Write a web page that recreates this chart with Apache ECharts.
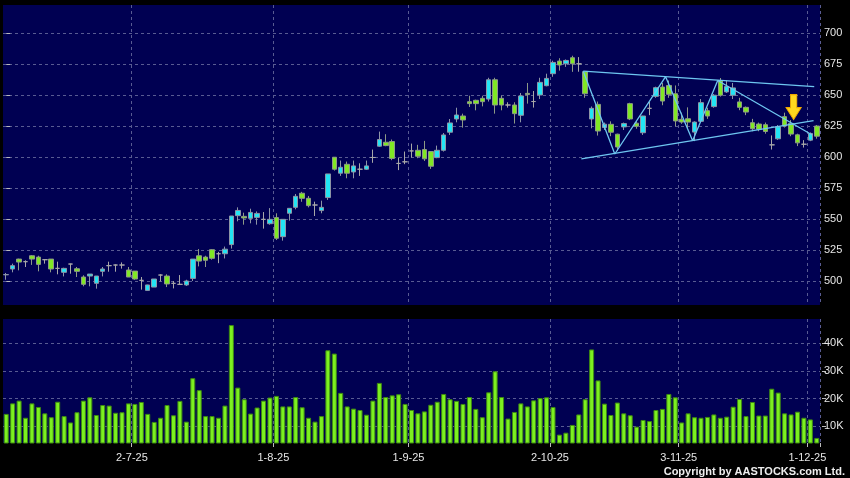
<!DOCTYPE html>
<html>
<head>
<meta charset="utf-8">
<script src="https://cdn.jsdelivr.net/npm/echarts@6/dist/echarts.min.js"></script>
<style>
html,body{margin:0;padding:0;background:#000;}
#chart{width:850px;height:478px;}
</style>
</head>
<body>
<div id="chart"></div>
<script>
const dates = [
"3-6-25","4-6-25","5-6-25","6-6-25","9-6-25","10-6-25","11-6-25","12-6-25","13-6-25","16-6-25",
"17-6-25","18-6-25","19-6-25","20-6-25","23-6-25","24-6-25","25-6-25","26-6-25","27-6-25","30-6-25",
"2-7-25","3-7-25","4-7-25","7-7-25","8-7-25","9-7-25","10-7-25","11-7-25","14-7-25","15-7-25",
"16-7-25","17-7-25","18-7-25","21-7-25","22-7-25","23-7-25","24-7-25","25-7-25","28-7-25","29-7-25",
"30-7-25","31-7-25","1-8-25","4-8-25","5-8-25","6-8-25","7-8-25","8-8-25","11-8-25","12-8-25",
"13-8-25","14-8-25","15-8-25","18-8-25","19-8-25","20-8-25","21-8-25","22-8-25","25-8-25","26-8-25",
"27-8-25","28-8-25","29-8-25","1-9-25","2-9-25","3-9-25","4-9-25","5-9-25","8-9-25","9-9-25",
"10-9-25","11-9-25","12-9-25","15-9-25","16-9-25","17-9-25","18-9-25","19-9-25","22-9-25","23-9-25",
"24-9-25","25-9-25","26-9-25","29-9-25","30-9-25","2-10-25","3-10-25","6-10-25","8-10-25","9-10-25",
"10-10-25","13-10-25","14-10-25","15-10-25","16-10-25","17-10-25","20-10-25","21-10-25","22-10-25","23-10-25",
"24-10-25","27-10-25","28-10-25","30-10-25","31-10-25","3-11-25","4-11-25","5-11-25","6-11-25","7-11-25",
"10-11-25","11-11-25","12-11-25","13-11-25","14-11-25","17-11-25","18-11-25","19-11-25","20-11-25","21-11-25",
"24-11-25","25-11-25","26-11-25","27-11-25","28-11-25","1-12-25","2-12-25"
];
const labelDates = ["2-7-25","1-8-25","1-9-25","2-10-25","3-11-25","1-12-25"];

const opens = [
505.0,509.7,517.7,515.6,520.4,519.3,517.2,517.7,510.2,507.0,
513.7,509.9,503.2,504.0,498.1,507.8,512.4,512.9,512.9,508.9,
508.0,500.5,492.4,495.1,504.8,504.0,498.1,497.3,496.8,502.1,
520.4,519.3,525.3,522.0,522.0,529.4,552.8,552.2,550.6,551.4,
549.8,546.3,551.2,535.8,554.7,559.5,570.9,566.8,561.4,556.9,
567.4,600.0,587.1,594.3,588.1,590.3,590.3,599.8,608.9,612.1,
612.7,595.0,596.3,605.1,605.6,606.2,604.6,599.7,605.6,620.2,
630.9,633.3,644.9,646.0,647.6,647.0,662.6,647.6,642.2,642.2,
633.9,651.6,645.0,650.3,657.8,667.5,677.7,675.5,680.4,675.5,
669.1,630.9,642.7,624.0,626.6,618.6,624.5,643.3,627.5,619.8,
639.5,649.2,656.7,658.0,651.3,630.6,631.1,620.3,629.0,637.6,
640.9,662.0,652.8,650.1,644.7,640.3,627.9,626.8,626.3,610.0,
614.9,632.8,627.3,618.1,610.5,613.8,625.2
];
const closes = [
505.2,512.4,515.3,515.6,517.7,513.4,517.2,509.7,510.2,510.2,
513.7,507.8,497.3,505.6,504.0,509.7,512.4,512.9,512.9,503.2,
501.6,500.5,496.8,501.6,504.8,497.6,498.1,497.3,500.0,517.7,
516.1,516.7,518.3,522.0,525.7,552.5,557.0,550.9,555.4,554.6,
549.8,549.8,534.5,549.8,558.7,568.4,566.8,560.9,561.4,559.5,
586.5,590.3,591.9,587.1,593.0,590.3,593.0,599.8,614.3,609.4,
599.0,595.0,596.3,605.1,600.8,598.7,592.7,605.6,618.0,627.7,
634.1,630.1,643.3,643.3,644.9,662.6,642.2,642.2,642.2,635.2,
649.5,650.6,645.0,660.5,663.7,676.6,674.5,678.2,675.5,675.5,
651.3,639.5,621.2,626.7,620.2,608.3,627.2,630.9,625.0,633.3,
639.5,656.2,645.4,650.8,629.3,628.4,628.4,628.4,644.1,633.3,
650.1,650.1,657.1,656.0,640.3,636.5,623.0,622.5,620.8,610.0,
624.6,625.2,618.7,611.6,610.5,619.2,617.0
];
const lows = [
501.0,507.0,508.6,511.3,513.0,507.8,514.0,507.0,505.4,503.7,
505.9,503.2,495.7,495.7,493.8,503.7,507.5,507.5,510.0,503.2,
501.0,493.0,492.4,495.1,499.7,495.1,494.0,496.8,496.0,500.0,
511.8,511.3,517.2,514.4,518.2,526.2,548.2,545.5,546.6,545.5,
542.3,545.5,533.1,532.6,548.8,557.9,564.0,559.5,552.5,554.7,
565.5,589.2,584.9,583.0,583.0,584.9,589.7,595.5,608.4,608.9,
597.6,589.6,594.4,599.7,599.2,597.0,590.6,599.2,604.6,618.0,
628.2,623.9,640.6,637.9,641.1,645.0,635.2,637.9,640.1,627.2,
628.2,643.3,640.1,647.0,657.3,665.0,670.0,673.0,669.0,669.1,
648.0,623.4,617.5,622.0,617.0,605.0,622.0,630.0,623.0,618.0,
634.0,648.0,642.0,648.0,625.0,627.0,623.0,613.0,628.0,631.0,
640.0,649.0,652.0,647.0,638.0,634.0,621.0,621.0,619.0,606.2,
614.0,624.0,617.0,609.0,607.8,613.0,615.0
];
const highs = [
506.5,514.0,518.0,516.7,521.0,520.4,517.7,517.7,515.6,510.7,
514.0,511.3,504.6,505.6,504.0,511.3,515.6,513.4,515.0,511.3,
508.0,503.2,497.0,501.6,505.4,505.4,500.0,504.8,501.0,517.7,
525.8,520.4,525.8,523.5,527.8,552.5,559.5,555.2,558.4,556.2,
555.7,558.9,554.7,549.8,558.7,570.3,572.0,568.7,564.1,564.9,
586.5,600.0,597.3,596.5,597.3,595.1,597.3,606.2,620.7,618.6,
614.3,599.8,604.6,611.0,610.0,613.2,605.0,609.4,619.6,630.9,
640.0,635.2,649.7,646.5,649.7,664.2,664.2,649.7,644.4,644.4,
651.9,660.0,653.5,664.2,667.5,678.0,680.0,679.0,682.0,680.9,
669.1,641.0,645.0,628.0,629.0,619.0,628.0,644.0,629.0,633.5,
645.0,657.0,660.0,662.0,658.0,636.0,640.3,629.0,647.0,640.0,
651.0,664.0,662.0,660.0,648.0,641.0,631.0,628.0,628.0,617.6,
626.0,636.0,630.0,619.0,613.8,620.0,626.0
];
// volume in thousands of shares
const volumesK = [
14.5,18.3,19.3,13.1,18.3,17.0,14.7,13.3,18.9,13.7,
11.4,15.1,19.3,20.5,14.1,17.7,17.5,14.9,15.1,18.3,
18.1,18.8,14.5,11.6,13.1,17.7,14.0,19.2,11.7,27.4,
23.1,13.7,13.7,13.1,17.5,46.6,24.0,19.8,14.6,16.8,
19.3,20.4,21.0,17.2,17.2,20.6,16.9,13.1,11.7,13.7,
37.5,36.3,22.1,17.2,16.4,15.9,14.2,19.3,25.7,20.6,
21.2,21.6,18.1,15.9,14.7,15.4,17.8,18.9,21.7,19.8,
19.2,18.1,20.6,16.3,13.3,22.3,29.9,20.6,12.8,15.2,
18.3,17.2,19.4,20.2,20.5,17.0,7.0,7.7,10.5,14.3,
19.8,37.8,26.6,18.2,14.1,18.6,14.7,14.0,9.9,12.3,
11.9,15.9,16.3,21.7,20.5,11.4,14.7,13.3,13.1,13.4,
14.3,13.1,13.5,17.1,19.9,13.7,18.8,13.9,13.9,23.6,
22.2,14.7,14.3,15.3,13.1,12.5,5.8
];
const priceTicks = [500,525,550,575,600,625,650,675,700];
const volumeTicks = [10000,20000,30000,40000];

// hand-drawn annotation lines: [bar position, price]
const upperLine = [[89.7,669.5],[125.6,657.0]];
const lowerLine = [[89.4,598.6],[125.5,629.5]];
const zigzagLine = [[89.7,669.5],[94.6,602.6],[102.5,665.1],[106.7,613.4],[110.6,662.0],[125.3,618.0]];
const arrowMark = [[122.4,640.5]];

const candleData = dates.map((d,i)=>[opens[i],closes[i],lows[i],highs[i]]);
const volumeData = volumesK.map(v=>v*1000);

const gridColor = '#585b92';
const textColor = '#e6e6e6';
const fontFamily = '"Liberation Sans", Arial, sans-serif';
const isLabel = (idx, val) => labelDates.indexOf(dates[idx]) >= 0;

const chart = echarts.init(document.getElementById('chart'), null, {renderer:'canvas'});
chart.setOption({
  animation:false,
  backgroundColor:'#000000',
  grid:[
    {left:3, top:5, width:817, height:300, show:true, backgroundColor:'#000052', borderWidth:0},
    {left:3, top:319, width:817, height:124, show:true, backgroundColor:'#000052', borderWidth:0}
  ],
  xAxis:[
    {type:'category', gridIndex:0, data:dates, boundaryGap:true,
     axisLine:{show:false}, axisTick:{show:false}, axisLabel:{show:false},
     splitLine:{show:true, interval:isLabel, lineStyle:{color:gridColor, type:[3,3], width:1}}},
    {type:'category', gridIndex:1, data:dates, boundaryGap:true,
     axisLine:{show:false},
     axisTick:{show:true, interval:isLabel, length:4, lineStyle:{color:'#bbbbbb'}},
     axisLabel:{show:true, interval:isLabel, color:textColor, fontSize:11, fontFamily:fontFamily, margin:9, padding:[0,6,0,0]},
     splitLine:{show:true, interval:isLabel, lineStyle:{color:gridColor, type:[3,3], width:1}}},
    {type:'value', gridIndex:0, min:-0.5, max:dates.length-0.5, show:false}
  ],
  yAxis:[
    {type:'value', gridIndex:0, position:'right', min:480.6, max:723, offset:2, scale:true,
     axisLine:{show:false},
     axisTick:{show:true, length:4, customValues:priceTicks, lineStyle:{color:'#bbbbbb'}},
     axisLabel:{show:true, customValues:priceTicks, color:textColor, fontSize:11, fontFamily:fontFamily, margin:2},
     splitLine:{show:true, lineStyle:{color:gridColor, type:[3,3], width:1}}},
    {type:'value', gridIndex:1, position:'right', min:3975, max:48800, offset:2,
     axisLine:{show:false},
     axisTick:{show:true, length:4, customValues:volumeTicks, lineStyle:{color:'#bbbbbb'}},
     axisLabel:{show:true, customValues:volumeTicks, color:textColor, fontSize:11, fontFamily:fontFamily, margin:2,
       formatter:(v)=>Math.round(v/1000)+'K'},
     splitLine:{show:true, lineStyle:{color:gridColor, type:[3,3], width:1}}}
  ],
  series:[
    {type:'candlestick', xAxisIndex:0, yAxisIndex:0, data:candleData, barWidth:5,
     itemStyle:{color:'#22e4f4', color0:'#80e824', borderColor:'#8d95a6', borderColor0:'#8d9a86', borderColorDoji:'#a8a8a8', borderWidth:1}},
    {type:'bar', xAxisIndex:1, yAxisIndex:1, data:volumeData, barWidth:5,
     itemStyle:{color:'#7cf020', borderColor:'#3e8a12', borderWidth:1}},
    {type:'line', xAxisIndex:2, yAxisIndex:0, data:upperLine, symbol:'none', z:5,
     lineStyle:{color:'#6ec6f0', width:1.3}},
    {type:'line', xAxisIndex:2, yAxisIndex:0, data:lowerLine, symbol:'none', z:5,
     lineStyle:{color:'#6ec6f0', width:1.3}},
    {type:'line', xAxisIndex:2, yAxisIndex:0, data:zigzagLine, symbol:'none', z:5,
     lineStyle:{color:'#6ec6f0', width:1.3}},
    {type:'scatter', xAxisIndex:2, yAxisIndex:0, data:arrowMark, z:6,
     symbol:'path://M4,0 L10,0 L10,12 L14,12 L7,23 L0,12 L4,12 Z', symbolSize:[15,25],
     itemStyle:{color:'#ffd81e', borderColor:'#f0a800', borderWidth:1, opacity:1}}
  ],
  graphic:[
    {type:'text', right:5, bottom:1, style:{text:'Copyright by AASTOCKS.com Ltd.', fill:'#eeeeee',
      font:'bold 11px "Liberation Sans", Arial, sans-serif'}}
  ]
});
</script>
</body>
</html>
